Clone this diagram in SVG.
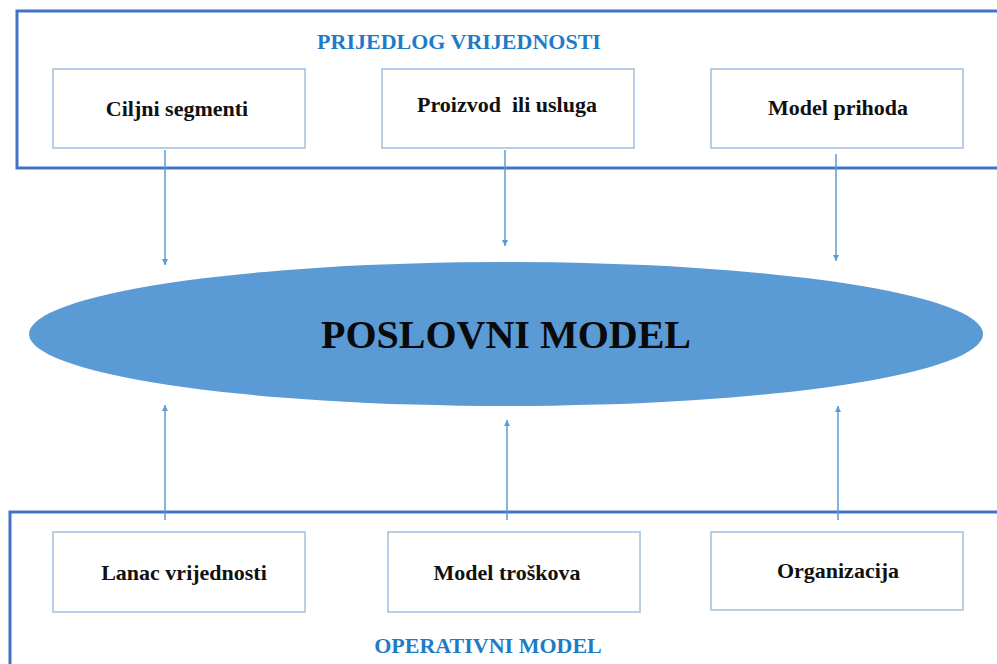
<svg xmlns="http://www.w3.org/2000/svg" width="997" height="664" viewBox="0 0 997 664">
<defs>
<marker id="ah" viewBox="0 0 10 10" refX="10" refY="5" markerWidth="4" markerHeight="4" orient="auto" markerUnits="strokeWidth">
<path d="M0,0 L10,5 L0,10 z" fill="#5B9BD5"/>
</marker>
</defs>
<style>
.outer{fill:none;stroke:#4472C4;stroke-width:3}
.box{fill:#fff;stroke:#A3BEDC;stroke-width:1.5}
.lbl{font-family:"Liberation Serif",serif;font-weight:bold;font-size:22px;fill:#111;text-anchor:middle}
.ttl{font-family:"Liberation Serif",serif;font-weight:bold;font-size:22px;fill:#1E7BC8;text-anchor:middle}
.con{stroke:#5B9BD5;stroke-width:1.5;fill:none;marker-end:url(#ah)}
</style>
<rect width="997" height="664" fill="#fff"/>
<g id="prijedlog">
<rect class="outer" x="17" y="11" width="1000" height="157"/>
<text class="ttl" x="459" y="49">PRIJEDLOG VRIJEDNOSTI</text>
</g>
<g id="operativni">
<rect class="outer" x="10" y="512" width="1000" height="200"/>
<text class="ttl" x="488" y="653">OPERATIVNI MODEL</text>
</g>
<g id="connectors">
<line class="con" x1="165" y1="150" x2="165" y2="265"/>
<line class="con" x1="505" y1="150" x2="505" y2="246"/>
<line class="con" x1="836" y1="154" x2="836" y2="261"/>
<line class="con" x1="165" y1="520" x2="165" y2="405"/>
<line class="con" x1="507" y1="520" x2="507" y2="420"/>
<line class="con" x1="838" y1="520" x2="838" y2="406"/>
</g>
<g id="ciljni"><rect class="box" x="53" y="69" width="252" height="79"/><text class="lbl" x="177" y="116">Ciljni segmenti</text></g>
<g id="proizvod"><rect class="box" x="382" y="69" width="252" height="79"/><text class="lbl" x="507" y="112" xml:space="preserve">Proizvod  ili usluga</text></g>
<g id="prihod"><rect class="box" x="711" y="69" width="252" height="79"/><text class="lbl" x="838" y="115">Model prihoda</text></g>
<g id="poslovni">
<ellipse cx="506" cy="334" rx="477" ry="72" fill="#5B9BD5"/>
<text x="506" y="348" font-family="'Liberation Serif',serif" font-weight="bold" font-size="40" fill="#0a0a0a" text-anchor="middle">POSLOVNI MODEL</text>
</g>
<g id="lanac"><rect class="box" x="53" y="532" width="252" height="80"/><text class="lbl" x="184" y="580">Lanac vrijednosti</text></g>
<g id="troskovi"><rect class="box" x="388" y="532" width="252" height="80"/><text class="lbl" x="507" y="580">Model troškova</text></g>
<g id="organizacija"><rect class="box" x="711" y="532" width="252" height="78"/><text class="lbl" x="838" y="578">Organizacija</text></g>
</svg>
